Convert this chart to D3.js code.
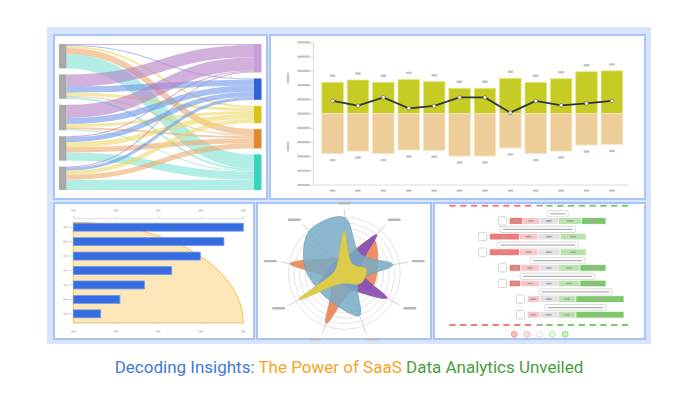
<!DOCTYPE html>
<html>
<head>
<meta charset="utf-8">
<script src="https://cdn.jsdelivr.net/npm/d3@7"></script>
<style>
  body { margin: 0; background: #fff; }
  svg { display: block; }
</style>
</head>
<body>
<svg id="chart" width="698" height="400"></svg>
<script>
// ---- sankey (top left)
const sankeySources = ["S1", "S2", "S3", "S4", "S5"]
const sankeyTargets = ["T1", "T2", "T3", "T4", "T5"]
const sankeyNodeColors = ["#c89ed6", "#2f62d6", "#d8c41c", "#df8a2c", "#3cd3bc"]
const sankeyLinkColors = ["#b47ec6", "#6e98e6", "#ecd866", "#ecaa6c", "#7fe3d3"]
const sankeyFlows = [
  [1, 1, 2, 6, 14],
  [12, 6, 3, 1, 2],
  [13, 6, 3, 2, 1],
  [1, 5, 5, 5, 8],
  [1, 3, 4, 5, 10]
]

// ---- diverging bars + line (top right)
const barCategories = ["Jan", "Feb", "Mar", "Apr", "May", "Jun", "Jul", "Aug", "Sep", "Oct", "Nov", "Dec"]
const barUpper = [2.2, 2.36, 2.2, 2.4, 2.24, 1.78, 1.78, 2.48, 2.2, 2.45, 2.94, 3.0]
const barLower = [-2.8, -2.62, -2.8, -2.55, -2.57, -2.97, -2.97, -2.4, -2.8, -2.62, -2.2, -2.15]
const lineValues = [0.89, 0.56, 1.14, 0.37, 0.54, 1.14, 1.14, 0.07, 0.89, 0.58, 0.72, 0.89]
const barTicks = [-5, -4, -3, -2, -1, 0, 1, 2, 3, 4, 5]

// ---- horizontal bars (bottom left)
const hbarCategories = ["A", "B", "C", "D", "E", "F", "G"]
const hbarValues = [100, 88.6, 74.7, 57.9, 41.8, 27.4, 16.1]
const hbarTicks = [0, 25, 50, 75, 100]

// ---- radar (bottom middle)
const radarAxes = ["a1", "a2", "a3", "a4", "a5", "a6", "a7", "a8", "a9"]
const radarOrange = [30, 80, 60, 55, 35, 95, 30, 98, 35]
const radarPurple = [25, 90, 30, 88, 30, 20, 55, 30, 25]
const radarBlue = [100, 45, 88, 30, 80, 57, 55, 72, 98]
const radarYellow = [75, 22, 40, 35, 20, 20, 94, 18, 20]
const radarRings = [60, 70, 80, 90, 100]

// ---- likert (bottom right)
const likertRows = ["Q1", "Q2", "Q3", "Q4", "Q5", "Q6", "Q7"]
const likertValues = [
  [40, 50, 57, 70, 73],
  [90, 54, 68, 78, 0],
  [90, 54, 68, 78, 0],
  [34, 56, 57, 65, 78],
  [34, 56, 57, 65, 78],
  [0, 36, 57, 53, 144],
  [0, 36, 57, 53, 144]
]
const likertTitleWidths = [63, 227, 243, 165, 225, 220, 185]
const likertColors = ["#f0787a", "#fbc5c6", "#e2e2e2", "#b9e2ac", "#7cc96c"]
const likertIconColors = ["#f49a9c", "#f9b8b9", "#dddddd", "#b9e0ad", "#9ad38d"]

const svg = d3.select("#chart")
const dashColor = "#c4c4c4"

// frame
svg.append("rect").attr("x", 47).attr("y", 27).attr("width", 604).attr("height", 317).attr("fill", "#d7e4fc")
const panels = [
  [54, 35, 213, 164], [270, 35, 375, 164],
  [54, 203, 200, 136], [257, 203, 174, 136], [434, 203, 211, 136]
]
svg.selectAll("rect.panel").data(panels).join("rect")
  .attr("class", "panel")
  .attr("x", d => d[0]).attr("y", d => d[1]).attr("width", d => d[2]).attr("height", d => d[3])
  .attr("fill", "#fff").attr("stroke", "#a8c3f5").attr("stroke-width", 2)

function dash(g, x, y, w, h, color) {
  g.append("rect").attr("x", x - w / 2).attr("y", y - h / 2).attr("width", w).attr("height", h)
    .attr("rx", h / 2).attr("fill", color || dashColor)
}

// ================= sankey =================
{
  const g = svg.append("g")
  const top = 44, bottom = 190, gap = 6, nodeW = 7.5
  const x = d3.scaleLinear().domain([0, 1]).range([59, 254])
  const total = d3.sum(sankeyFlows.flat())
  const k = d3.scaleLinear().domain([0, total]).range([0, bottom - top - gap * 4])

  const srcTot = sankeyFlows.map(r => d3.sum(r))
  const tgtTot = sankeyTargets.map((t, j) => d3.sum(sankeyFlows, r => r[j]))
  const stack = tots => {
    let y = top
    return tots.map(v => { const n = { y0: y, y1: y + k(v) }; y = n.y1 + gap; return n })
  }
  const srcNodes = stack(srcTot)
  const tgtNodes = stack(tgtTot)

  const links = []
  const srcOff = srcNodes.map(n => n.y0)
  sankeyFlows.forEach((row, i) => row.forEach((v, j) => {
    const w = k(v)
    links.push({ i, j, w, ys: srcOff[i] + w / 2 })
    srcOff[i] += w
  }))
  // target offsets by source order
  sankeyTargets.forEach((t, j) => {
    let y = tgtNodes[j].y0
    links.filter(l => l.j === j).sort((a, b) => a.i - b.i).forEach(l => { l.yt = y + l.w / 2; y += l.w })
  })

  const link = d3.linkHorizontal()
  g.append("g").selectAll("path").data(links).join("path")
    .attr("d", l => link({ source: [x(0) + nodeW, l.ys], target: [x(1), l.yt] }))
    .attr("fill", "none")
    .attr("stroke", l => sankeyLinkColors[l.j])
    .attr("stroke-opacity", 0.6)
    .attr("stroke-width", l => Math.max(1, l.w))

  g.selectAll("rect.src").data(srcNodes).join("rect")
    .attr("x", x(0)).attr("y", d => d.y0).attr("width", nodeW).attr("height", d => d.y1 - d.y0)
    .attr("fill", "#a9a9a9")
  g.selectAll("rect.tgt").data(tgtNodes).join("rect")
    .attr("x", x(1)).attr("y", d => d.y0).attr("width", nodeW).attr("height", d => d.y1 - d.y0)
    .attr("fill", (d, j) => sankeyNodeColors[j])
}

// ================= diverging bars =================
{
  const g = svg.append("g")
  const y = d3.scaleLinear().domain([-5, 5]).range([185, 42.3])
  const x = d3.scaleBand().domain(barCategories).range([318, 626.5]).paddingInner(0.15).paddingOuter(0.15)

  g.append("g").attr("transform", "translate(313,0)")
    .call(d3.axisLeft(y).tickValues(barTicks).tickSize(3).tickFormat(""))
    .call(a => a.selectAll("line,path").attr("stroke", "#dcdcdc"))
  g.append("line").attr("x1", 313).attr("x2", 628).attr("y1", y(-5)).attr("y2", y(-5)).attr("stroke", "#dcdcdc")
  barTicks.forEach(t => dash(g, 303.5, y(t), 13, 2.2))
  dash(g, 288, 78, 2.5, 12)
  dash(g, 288, 146.5, 2.5, 12)

  g.selectAll("rect.up").data(barUpper).join("rect")
    .attr("x", (d, i) => x(barCategories[i])).attr("width", x.bandwidth())
    .attr("y", d => y(d)).attr("height", d => y(0) - y(d))
    .attr("fill", "#c6cc24").attr("stroke", "#e3e78a").attr("stroke-width", 0.8)
  g.selectAll("rect.down").data(barLower).join("rect")
    .attr("x", (d, i) => x(barCategories[i])).attr("width", x.bandwidth())
    .attr("y", y(0)).attr("height", d => y(d) - y(0))
    .attr("fill", "#edcd9a").attr("stroke", "#f7e4c4").attr("stroke-width", 0.8)

  barCategories.forEach((c, i) => {
    const cx = x(c) + x.bandwidth() / 2
    dash(g, cx, y(barUpper[i]) - 6.5, 6, 2.4)
    dash(g, cx, y(barLower[i]) + 6.5, 6, 2.4)
    dash(g, cx, 190.7, 6, 2.2)
  })

  const line = d3.line().x((d, i) => x(barCategories[i]) + x.bandwidth() / 2).y(d => y(d))
  g.append("path").attr("d", line(lineValues)).attr("fill", "none").attr("stroke", "#333").attr("stroke-width", 1.8)
  g.selectAll("circle").data(lineValues).join("circle")
    .attr("cx", (d, i) => x(barCategories[i]) + x.bandwidth() / 2).attr("cy", d => y(d)).attr("r", 1.8)
    .attr("fill", "#fff").attr("stroke", "#555").attr("stroke-width", 0.6)
}

// ================= horizontal bars + quarter ellipse =================
{
  const g = svg.append("g")
  const x = d3.scaleLinear().domain([0, 100]).range([73.3, 243.3])
  const yTop = 218.3, yBot = 322.7
  const y = d3.scaleBand().domain(hbarCategories).range([yTop, yBot]).paddingInner(0.45).paddingOuter(0.34)

  g.append("path")
    .attr("d", `M${x(0)},${yTop + 4}A${x(100) - x(0)},${yBot - yTop - 4} 0 0 1 ${x(100)},${yBot}L${x(0)},${yBot}Z`)
    .attr("fill", "#fde7b8").attr("stroke", "#f6c449").attr("stroke-width", 1)

  g.append("g").attr("transform", `translate(0,${yTop})`)
    .call(d3.axisTop(x).tickValues(hbarTicks).tickSize(2).tickFormat(""))
    .call(a => a.selectAll("line,path").attr("stroke", "#dcdcdc"))
  g.append("g").attr("transform", `translate(0,${yBot})`)
    .call(d3.axisBottom(x).tickValues(hbarTicks).tickSize(2).tickFormat(""))
    .call(a => a.selectAll("line,path").attr("stroke", "#dcdcdc"))
  hbarTicks.forEach(t => { dash(g, x(t), 210.5, 5, 1.8, "#d0d0d0"); dash(g, x(t), 331.5, 5, 1.8, "#d0d0d0") })

  g.selectAll("rect.bar").data(hbarValues).join("rect")
    .attr("x", x(0)).attr("y", (d, i) => y(hbarCategories[i]))
    .attr("width", d => x(d) - x(0)).attr("height", y.bandwidth())
    .attr("fill", "#376ce0").attr("stroke", "#6f98f0").attr("stroke-width", 0.8)
  hbarCategories.forEach(c => {
    const cy = y(c) + y.bandwidth() / 2
    dash(g, 65.5, cy, 5, 1.6, "#d0d0d0")
    g.append("line").attr("x1", 69).attr("x2", 72.5).attr("y1", cy).attr("y2", cy).attr("stroke", "#d0d0d0")
  })
}

// ================= radar =================
{
  const cx = 344.3, cy = 273.3
  const g = svg.append("g").attr("transform", `translate(${cx},${cy})`)
  const r = d3.scaleLinear().domain([0, 100]).range([0, 56])
  const ang = d3.scaleLinear().domain([0, radarAxes.length]).range([0, 2 * Math.PI])

  g.selectAll("circle.ring").data(radarRings).join("circle")
    .attr("r", d => r(d)).attr("fill", "none").attr("stroke", "#e4e4e4").attr("stroke-width", 1)

  radarAxes.forEach((a, i) => {
    const t = ang(i)
    const sx = Math.sin(t), sy = -Math.cos(t)
    g.append("line").attr("x1", 0).attr("y1", 0).attr("x2", sx * 64).attr("y2", sy * 64)
      .attr("stroke", "#d2d2d2").attr("stroke-width", 1)
    const lx = sx * 70, ly = sy * 70
    dash(g, lx + (sx > 0.3 ? 5 : sx < -0.3 ? -5 : 0), ly, 13, 2.4, "#b8b8b8")
  })

  const radial = d3.lineRadial().angle((d, i) => ang(i)).radius(d => r(d)).curve(d3.curveCatmullRomClosed.alpha(0.5))
  const series = [
    [radarOrange, "#ec8a5c", 0.95],
    [radarPurple, "#8b52b6", 0.95],
    [radarBlue, "#77acc6", 0.85],
    [radarYellow, "#ddcc4a", 1]
  ]
  series.forEach(([vals, col, op]) => {
    g.append("path").attr("d", radial(vals)).attr("fill", col).attr("fill-opacity", op)
      .attr("stroke", d3.color(col).darker(0.3)).attr("stroke-width", 0.6)
  })
}

// ================= likert =================
{
  const g = svg.append("g")
  const x = d3.scaleLinear().domain([-150, 150]).range([498.8, 598.8])
  const y = d3.scaleBand().domain(likertRows).range([211, 324.7]).paddingInner(0.584).paddingOuter(0.43)
  const h = y.bandwidth()

  // dashed guide lines
  ;[205.7, 325].forEach(ly => {
    g.append("line").attr("x1", 449.3).attr("x2", 533).attr("y1", ly).attr("y2", ly)
      .attr("stroke", "#f07c7e").attr("stroke-width", 2).attr("stroke-dasharray", "6.3 4.5")
    g.append("line").attr("x1", 536.5).attr("x2", 542.8).attr("y1", ly).attr("y2", ly)
      .attr("stroke", "#aaa").attr("stroke-width", 2)
    g.append("line").attr("x1", 546.3).attr("x2", 630).attr("y1", ly).attr("y2", ly)
      .attr("stroke", "#7cc96c").attr("stroke-width", 2).attr("stroke-dasharray", "6.3 4.5")
  })

  likertRows.forEach((row, i) => {
    const vals = likertValues[i]
    const y0 = y(row)
    let start = -(vals[0] + vals[1] + vals[2] / 2)
    const end = start + d3.sum(vals)
    const mid = (start + end) / 2
    // title box
    const tw = likertTitleWidths[i]
    g.append("rect").attr("x", x(mid - tw / 2)).attr("y", y0 - 7).attr("width", x(tw) - x(0)).attr("height", 6.2)
      .attr("rx", 1.5).attr("fill", "#fff").attr("stroke", "#d0d0d0").attr("stroke-width", 0.8)
    g.append("line").attr("x1", x(mid - tw / 2) + 3).attr("x2", x(mid + tw / 2) - 3)
      .attr("y1", y0 - 3.9).attr("y2", y0 - 3.9).attr("stroke", "#b0b0b0").attr("stroke-width", 1.2)
    // checkbox
    const firstNonZero = vals.findIndex(v => v > 0)
    let s = start
    for (let j = 0; j < firstNonZero; j++) s += vals[j]
    g.append("rect").attr("x", x(s) - 11).attr("y", y0 + h / 2 - 4.2).attr("width", 8.3).attr("height", 8.3)
      .attr("rx", 1.5).attr("fill", "#fff").attr("stroke", "#c8c8c8").attr("stroke-width", 0.8)
    // segments
    vals.forEach((v, j) => {
      if (v > 0) {
        g.append("rect").attr("x", x(start)).attr("y", y0).attr("width", x(v) - x(0)).attr("height", h)
          .attr("fill", likertColors[j]).attr("stroke", "#fff").attr("stroke-width", 0.6)
        dash(g, x(start + v / 2), y0 + h / 2, 6, 1.7, j === 4 ? "#b79ab7" : "#a8a8a8")
      }
      start += v
    })
  })

  likertIconColors.forEach((c, i) => {
    g.append("circle").attr("cx", 514.3 + i * 12.7).attr("cy", 334.3).attr("r", 3)
      .attr("fill", d3.color(c).brighter(0.6)).attr("stroke", c).attr("stroke-width", 1)
  })
}

// ================= title =================
const title = svg.append("text").attr("x", 349).attr("y", 373)
  .attr("text-anchor", "middle").attr("font-family", "Roboto, sans-serif").attr("font-size", 17)
title.append("tspan").attr("fill", "#3f78dc").text("Decoding Insights: ")
title.append("tspan").attr("fill", "#f5a41f").text("The Power of SaaS ")
title.append("tspan").attr("fill", "#4a9d3b").text("Data Analytics Unveiled")
</script>
</body>
</html>
